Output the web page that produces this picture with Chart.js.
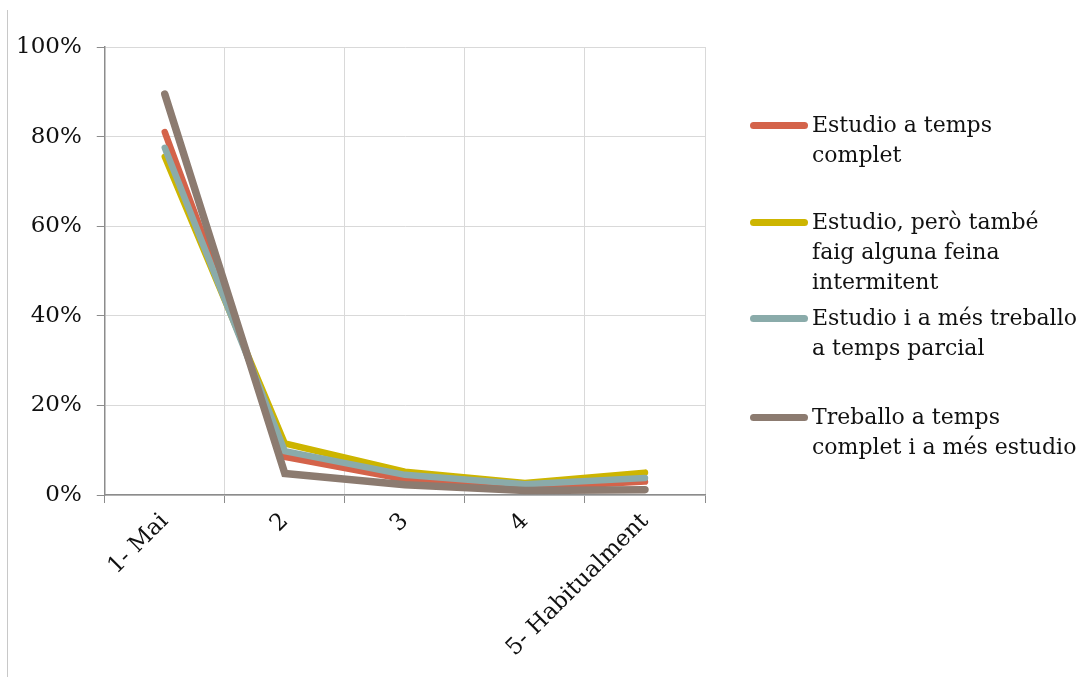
<!DOCTYPE html>
<html>
<head>
<meta charset="utf-8">
<script src="https://cdn.jsdelivr.net/npm/chart.js@4"></script>
<style>
  body { margin: 0; background: #fff; }
  #wrap { position: relative; width: 1091px; height: 677px; }
  #edge { position: absolute; left: 7px; top: 10px; width: 1px; height: 667px; background: #c8c8c8; }
  #legend { position: absolute; left: 0; top: 0; font-family: "DejaVu Serif", serif; font-size: 22px; color: #111; }
  .item { position: absolute; left: 750px; }
  .swatch { position: absolute; left: 0; top: 12px; width: 58px; height: 7px; border-radius: 4px; }
  .txt { position: absolute; left: 62px; line-height: 30px; white-space: pre; }
</style>
</head>
<body>
<div id="wrap">
  <canvas id="lineChart" width="1091" height="677"></canvas>
  <div id="edge"></div>
  <div id="legend"></div>
</div>
<script>
// Categories (x axis)
const categories = ["1- Mai", "2", "3", "4", "5- Habitualment"];

// Series names (legend, already split on lines as in the original)
const seriesNames = [
    ["Estudio a temps", "complet"],
    ["Estudio, però també", "faig alguna feina", "intermitent"],
    ["Estudio i a més treballo", "a temps parcial"],
    ["Treballo a temps", "complet i a més estudio"]
];

// Values in %
const tempsComplet   = [81, 8.5, 3.5, 1.5, 3];
const feinaInterm    = [75.5, 11.5, 5.2, 2.7, 5];
const tempsParcial   = [77.5, 9.8, 4.5, 2.4, 3.8];
const treballoEstudi = [89.5, 4.8, 2.3, 1, 1.2];

const colors = ["#d4634a", "#cdb500", "#8aabaa", "#8c7b70"];
const legendTops = [110, 207, 303, 402];

const allSeries = [tempsComplet, feinaInterm, tempsParcial, treballoEstudi];
const font = { family: "'DejaVu Serif', serif", size: 23 };

const datasets = allSeries.map((vals, i) => ({
    label: seriesNames[i].join(" "),
    data: vals,
    borderColor: colors[i],
    backgroundColor: colors[i],
    borderWidth: i === 3 ? 7.5 : 6.5,
    borderCapStyle: "round",
    borderJoinStyle: "miter",
    pointRadius: 0,
    tension: 0,
    order: 3 - i   // later series drawn on top, like Excel
}));

const ctx = document.getElementById("lineChart").getContext("2d");
new Chart(ctx, {
    type: "line",
    data: { labels: categories, datasets: datasets },
    options: {
        responsive: false,
        animation: false,
        layout: { padding: { left: 1, right: 386, top: 47, bottom: 10 } },
        plugins: { legend: { display: false }, tooltip: { enabled: false } },
        scales: {
            x: {
                offset: true,
                grid: { offset: true, color: "#d9d9d9", tickColor: "#8c8c8c", tickLength: 8, lineWidth: 1 },
                border: { color: "#8c8c8c", width: 1.5 },
                ticks: { font: font, color: "#111", minRotation: 45, maxRotation: 45, padding: 5 },
                // rotated labels would otherwise push the plot to the right
                afterFit: s => { s.paddingLeft = 0; s.paddingRight = 0; }
            },
            y: {
                min: 0,
                max: 100,
                grid: { color: "#d9d9d9", tickColor: "#8c8c8c", tickLength: 8 },
                border: { color: "#8c8c8c", width: 1.5 },
                ticks: { font: font, color: "#111", stepSize: 20, padding: 15,
                         callback: v => v + "%" }
            }
        }
    }
});

// Legend on the right
const legend = document.getElementById("legend");
seriesNames.forEach((lines, i) => {
    const item = document.createElement("div");
    item.className = "item";
    item.style.top = legendTops[i] + "px";
    const sw = document.createElement("div");
    sw.className = "swatch";
    sw.style.background = colors[i];
    const tx = document.createElement("div");
    tx.className = "txt";
    tx.textContent = lines.join("\n");
    item.appendChild(sw);
    item.appendChild(tx);
    legend.appendChild(item);
});
</script>
</body>
</html>
